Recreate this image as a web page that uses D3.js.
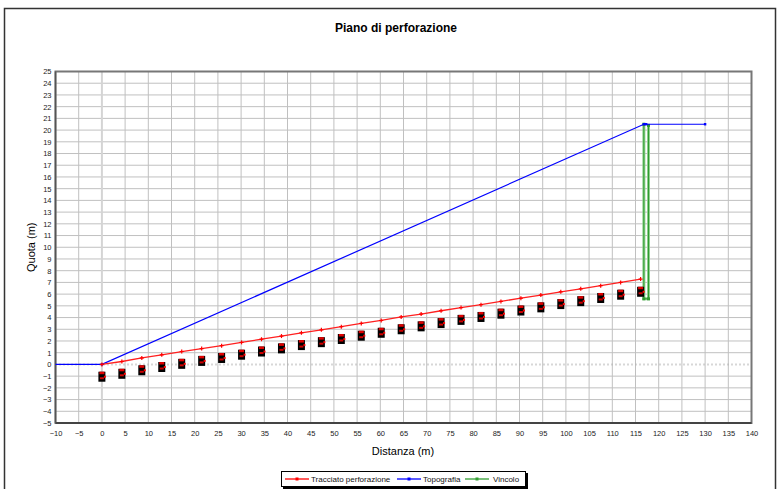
<!DOCTYPE html>
<html><head><meta charset="utf-8">
<script src="https://cdn.jsdelivr.net/npm/d3@7"></script>
<style>body{margin:0;background:#fff}svg{display:block}</style>
</head><body>
<script>
// ---- data ----
const xTicks = [-10,-5,0,5,10,15,20,25,30,35,40,45,50,55,60,65,70,75,80,85,90,95,100,105,110,115,120,125,130,135,140];
const yTicks = [-5,-4,-3,-2,-1,0,1,2,3,4,5,6,7,8,9,10,11,12,13,14,15,16,17,18,19,20,21,22,23,24,25];
const traccX = [0,4.3,8.6,12.9,17.2,21.5,25.8,30.1,34.4,38.7,43,47.3,51.6,55.9,60.2,64.5,68.8,73.1,77.4,81.7,86,90.3,94.6,98.9,103.2,107.5,111.8,116.1];
const traccY = [0,0.25,0.55,0.82,1.1,1.35,1.6,1.88,2.15,2.42,2.7,2.95,3.22,3.5,3.75,4.05,4.3,4.58,4.85,5.1,5.38,5.65,5.92,6.2,6.45,6.72,7.0,7.28];
const foriY = [-1.05,-0.8,-0.5,-0.22,0.05,0.3,0.55,0.83,1.1,1.37,1.65,1.9,2.17,2.45,2.7,3.0,3.25,3.53,3.8,4.05,4.33,4.6,4.87,5.15,5.4,5.67,5.95,6.2];
const topoX = [-10,0,116.8,117.3,130];
const topoY = [0,0,20.5,20.5,20.5];
const vincX = [116.8,116.8,117.8,117.8];
const vincY = [20.5,5.6,5.6,20.4];
const legendNames = ["Tracciato perforazione","Topografia","Vincolo"];
const legendColors = ["#ff0000","#0000ff","#33a033"];

const W=781,H=489;
const L=55.5,R=751.5,T=71.5,B=423;
const svg=d3.select("body").append("svg").attr("width",W).attr("height",H);
svg.append("rect").attr("x",4.5).attr("y",8.5).attr("width",771).attr("height",490).attr("fill","#fff").attr("stroke","#333").attr("stroke-width",1.5);

const x=d3.scaleLinear().domain([-10,140]).range([L,R]);
const y=d3.scaleLinear().domain([-5,25]).range([B,T]);

svg.append("text").attr("x",396).attr("y",32).attr("text-anchor","middle")
  .attr("font-family","Liberation Sans, Arial, sans-serif").attr("font-weight","bold").attr("font-size",12).text("Piano di perforazione");

// grid
const g=svg.append("g");
g.selectAll(".hg").data(yTicks.filter(d=>d!==0&&d!==-5&&d!==25)).enter().append("line")
  .attr("x1",L).attr("x2",R).attr("y1",d=>y(d)).attr("y2",d=>y(d)).attr("stroke","#c0c0c0").attr("stroke-width",1);
g.selectAll(".vg").data(xTicks.filter(d=>d!==-10&&d!==140&&d!==0)).enter().append("line")
  .attr("y1",T).attr("y2",B).attr("x1",d=>x(d)).attr("x2",d=>x(d)).attr("stroke","#c0c0c0").attr("stroke-width",1);
g.append("line").attr("x1",x(0)).attr("x2",x(0)).attr("y1",T).attr("y2",B).attr("stroke","#d4d4d4").attr("stroke-width",2);
g.append("line").attr("x1",L).attr("x2",R).attr("y1",y(0)).attr("y2",y(0)).attr("stroke","#b0b0b0").attr("stroke-width",2).attr("stroke-dasharray","1,3");

// border
svg.append("rect").attr("x",L).attr("y",T).attr("width",R-L).attr("height",B-T).attr("fill","none").attr("stroke","#777").attr("stroke-width",2);
svg.append("line").attr("x1",L).attr("x2",R).attr("y1",B).attr("y2",B).attr("stroke","#333").attr("stroke-width",1.5);
svg.append("line").attr("x1",L).attr("x2",L).attr("y1",T).attr("y2",B).attr("stroke","#555").attr("stroke-width",1.5);

// axes labels
const tickFont="Liberation Sans Narrow, Arial Narrow, sans-serif";
const xa=d3.axisBottom(x).tickValues(xTicks).tickSize(0).tickPadding(8);
const ya=d3.axisLeft(y).tickValues(yTicks).tickSize(0).tickPadding(4);
const gx=svg.append("g").attr("transform",`translate(0,${B})`).call(xa);
const gy=svg.append("g").attr("transform",`translate(${L},0)`).call(ya);
[gx,gy].forEach(a=>{a.select(".domain").remove();a.selectAll("text").attr("font-family",tickFont).attr("font-size",7.5).attr("fill","#222");});

svg.append("text").attr("x",403).attr("y",455).attr("text-anchor","middle").attr("font-family","Liberation Sans, Arial, sans-serif").attr("font-size",11).text("Distanza (m)");
svg.append("text").attr("transform",`translate(35,${(T+B)/2}) rotate(-90)`).attr("text-anchor","middle").attr("font-family","Liberation Sans, Arial, sans-serif").attr("font-size",11).text("Quota (m)");

const line=d3.line().x(d=>x(d[0])).y(d=>y(d[1]));
const topo=topoX.map((v,i)=>[v,topoY[i]]);
const vinc=vincX.map((v,i)=>[v,vincY[i]]);
const trac=traccX.map((v,i)=>[v,traccY[i]]);
const fori=traccX.map((v,i)=>[v,foriY[i]]);

// vincolo
svg.append("path").attr("d",line(vinc)).attr("fill","none").attr("stroke","#8fd08f").attr("stroke-width",3);
svg.append("path").attr("d",line(vinc)).attr("fill","none").attr("stroke","#2e9a2e").attr("stroke-width",1);
svg.selectAll(".vm").data(vinc).enter().append("rect").attr("x",d=>x(d[0])-1.5).attr("y",d=>y(d[1])-1.5).attr("width",3).attr("height",3).attr("fill","#2e9a2e");
// topografia
svg.append("path").attr("d",line(topo)).attr("fill","none").attr("stroke","#0000ff").attr("stroke-width",1.2);
svg.selectAll(".tm").data(topo.slice(1)).enter().append("rect").attr("x",d=>x(d[0])-1.2).attr("y",d=>y(d[1])-1.2).attr("width",2.4).attr("height",2.4).attr("fill","#0000ff");
// tracciato
svg.append("path").attr("d",line(trac)).attr("fill","none").attr("stroke","#ff2020").attr("stroke-width",1.3);
const tm=svg.selectAll(".rm").data(trac).enter().append("g").attr("transform",d=>`translate(${x(d[0])},${y(d[1])})`);
tm.append("line").attr("x1",-2).attr("x2",2).attr("stroke","#ff0000").attr("stroke-width",1.2);
tm.append("line").attr("y1",-2).attr("y2",2).attr("stroke","#ff0000").attr("stroke-width",1.2);
// fori
const fm=svg.selectAll(".fm").data(fori).enter().append("g").attr("transform",d=>`translate(${x(d[0])},${y(d[1])})`);
fm.append("rect").attr("x",-3.5).attr("y",-5).attr("width",7).attr("height",10).attr("fill","#000");
fm.append("rect").attr("x",-2.5).attr("y",-5).attr("width",5).attr("height",2.5).attr("fill","#e00000");
fm.append("rect").attr("x",-2).attr("y",0.5).attr("width",4).attr("height",2).attr("fill","#d00000");
fm.append("rect").attr("x",2).attr("y",-1).attr("width",2).attr("height",2).attr("fill","#ff0000");

// legend
const lg=svg.append("g");
lg.append("rect").attr("x",283).attr("y",473).attr("width",245).attr("height",16).attr("fill","#000");
lg.append("rect").attr("x",281.5).attr("y",471.5).attr("width",244).attr("height",15).attr("fill","#fff").attr("stroke","#000").attr("stroke-width",1);
const lx=[285,397,465], tx=[311,423,493];
legendNames.forEach((n,i)=>{
  lg.append("line").attr("x1",lx[i]).attr("x2",lx[i]+24).attr("y1",479).attr("y2",479).attr("stroke",legendColors[i]).attr("stroke-width",1.3);
  lg.append("rect").attr("x",lx[i]+10.5).attr("y",477.5).attr("width",3).attr("height",3).attr("fill",legendColors[i]);
  lg.append("text").attr("x",tx[i]).attr("y",482).attr("font-family","Liberation Sans, Arial, sans-serif").attr("font-size",8).attr("fill","#111").text(n);
});
</script>
</body></html>
